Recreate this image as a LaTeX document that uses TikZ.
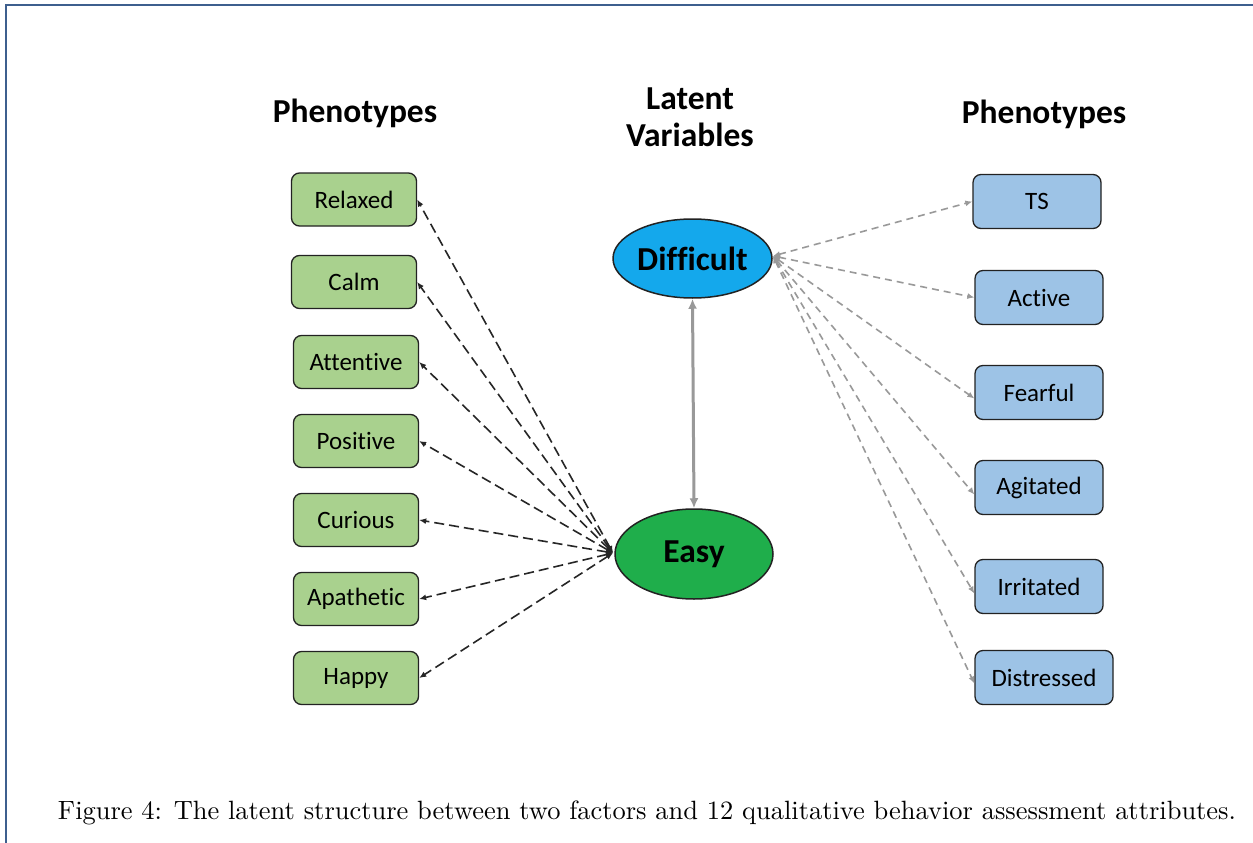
\documentclass[tikz,border=0pt]{standalone}
\usepackage{fontspec}
\setmainfont{Latin Modern Roman}
\newfontfamily\carlitofam[RawFeature=-liga]{Carlito}
\usetikzlibrary{arrows.meta,shapes.geometric}
\definecolor{gbox}{HTML}{A9D18E}
\definecolor{bbox}{HTML}{9DC3E6}
\definecolor{diffc}{HTML}{14A8EC}
\definecolor{easyc}{HTML}{1FAE4B}
\definecolor{framec}{HTML}{3E5F8E}
\definecolor{edgec}{HTML}{222222}
\definecolor{greyarr}{HTML}{999999}
\tikzset{
  gbx/.style={draw=edgec, line width=1.3pt, fill=gbox, rounded corners=8pt, minimum width=125pt, minimum height=53pt, inner sep=0pt, font=\carlitofam\fontsize{25}{27}\selectfont},
  bbx/.style={draw=edgec, line width=1.3pt, fill=bbox, rounded corners=8pt, minimum width=128pt, minimum height=54pt, inner sep=0pt, font=\carlitofam\fontsize{25}{27}\selectfont},
  ell/.style={ellipse, draw=edgec, line width=1.5pt, inner sep=0pt, font=\carlitofam\bfseries\fontsize{33.5}{35}\selectfont},
  hdr/.style={font=\carlitofam\bfseries\fontsize{33.5}{37}\selectfont, align=center},
  larr/.style={draw=black!85, line width=1.6pt, dash pattern=on 10pt off 5pt, {Latex[length=7pt,width=6pt]}-{Latex[length=7pt,width=6pt]}},
  rarr/.style={draw=greyarr, line width=1.6pt, dash pattern=on 7pt off 5pt, {Latex[length=7pt,width=6pt]}-{Latex[length=7pt,width=6pt]}},
  varr/.style={draw=greyarr, line width=3pt, {Latex[length=10pt,width=9pt]}-{Latex[length=10pt,width=9pt]}},
}
\begin{document}
\begin{tikzpicture}[x=1pt,y=-1pt]
\useasboundingbox (0,0) rectangle (1253,843);
\fill[white] (0,0) rectangle (1253,843);
\draw[framec, line width=1.6pt] (6,843) -- (6,5) -- (1253,5);

% headers
\node[hdr] (h1) at (355,113) {Phenotypes};
\node[hdr] (h2) at (690,117) {Latent\\Variables};
\node[hdr] (h3) at (1044,114) {Phenotypes};

% left boxes
\node[gbx] (relaxed) at (354,199.5) {Relaxed};
\node[gbx] (calm) at (354,282) {Calm};
\node[gbx] (attentive) at (356,362) {Attentive};
\node[gbx] (positive) at (356,441) {Positive};
\node[gbx] (curious) at (356,520) {Curious};
\node[gbx] (apathetic) at (356,599) {Apathetic};
\node[gbx] (happy) at (356,678) {Happy};

% right boxes
\node[bbx] (ts) at (1037,201.5) {TS};
\node[bbx] (active) at (1039,297.5) {Active};
\node[bbx] (fearful) at (1039,392.5) {Fearful};
\node[bbx] (agitated) at (1039,487.5) {Agitated};
\node[bbx] (irritated) at (1039,586.5) {Irritated};
\node[bbx, minimum width=138pt] (distressed) at (1044,677.5) {Distressed};

% ellipses
\node[ell, fill=diffc, minimum width=159pt, minimum height=79pt] (difficult) at (692.5,258.5) {Difficult};
\node[ell, fill=easyc, minimum width=158pt, minimum height=90pt] (easy) at (694,554) {Easy};

\coordinate (ep) at (613,553);
\coordinate (dp) at (773,256);

% left connectors
\draw[larr] (ep) -- (relaxed.east);
\draw[larr] (ep) -- (calm.east);
\draw[larr] (ep) -- (attentive.east);
\draw[larr] (ep) -- (positive.east);
\draw[larr] (ep) -- (curious.east);
\draw[larr] (ep) -- (apathetic.east);
\draw[larr] (ep) -- (happy.east);

% right connectors
\draw[rarr] (dp) -- (ts.west);
\draw[rarr] (dp) -- (active.west);
\draw[rarr] (dp) -- ([yshift=-6pt]fearful.west);
\draw[rarr] (dp) -- ([yshift=-7pt]agitated.west);
\draw[rarr] (dp) -- ([yshift=-7pt]irritated.west);
\draw[rarr] (dp) -- ([yshift=-6pt]distressed.west);

% vertical
\draw[varr] (difficult.south) -- (easy.north);

% caption
\node[anchor=center, inner sep=0pt] (cap) at (647,813) {\resizebox{1178pt}{!}{Figure 4: The latent structure between two factors and 12 qualitative behavior assessment attributes.}};
\end{tikzpicture}
\end{document}
